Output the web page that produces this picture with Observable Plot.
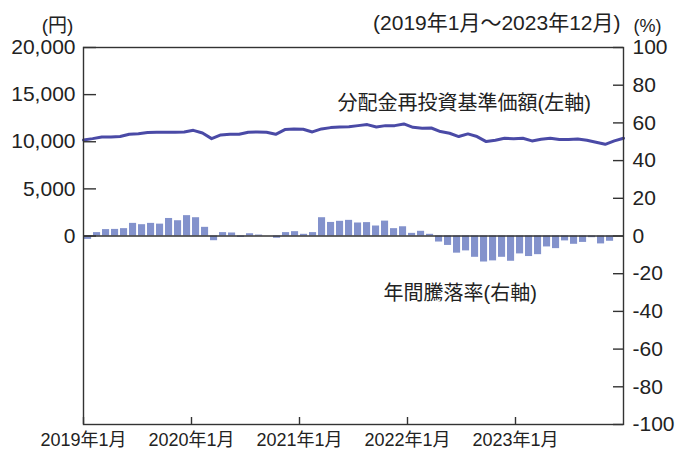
<!DOCTYPE html>
<html>
<head>
<meta charset="utf-8">
<script src="https://cdn.jsdelivr.net/npm/d3@7"></script>
<script src="https://cdn.jsdelivr.net/npm/@observablehq/plot@0.6"></script>
<style>
  html, body { margin: 0; padding: 0; background: #fff; }
  #chart { width: 675px; height: 453px; }
</style>
</head>
<body>
<div id="chart"></div>
<script>
// Monthly data, 2019年1月 – 2023年12月 (60 months)
const navYen = [
  10190, 10330, 10510, 10510, 10550, 10790, 10860, 10970, 11000, 11000, 11000, 11040,
  11210, 10930, 10330, 10720, 10790, 10790, 11000, 11040, 11000, 10790, 11290, 11360,
  11320, 11040, 11360, 11500, 11570, 11600, 11710, 11820, 11570, 11710, 11710, 11890,
  11530, 11430, 11460, 11080, 10900, 10550, 10830, 10550, 10020, 10160, 10370, 10330,
  10370, 10090, 10260, 10370, 10230, 10230, 10300, 10160, 9950, 9730, 10090, 10370
];
const annualReturnPct = [
  -1.8, 1.8, 3.4, 3.5, 3.9, 6.7, 6.0, 6.7, 6.3, 9.3, 8.1, 10.8,
  9.7, 4.6, -2.5, 1.8, 1.6, -0.7, 1.2, 0.5, 0, -1.2, 1.8, 2.3,
  0.9, 1.8, 9.7, 7.2, 7.8, 8.3, 6.9, 7.1, 5.3, 7.9, 3.9, 4.9,
  1.4, 2.5, 0.9, -3.2, -5.0, -9.1, -7.9, -11.3, -13.8, -13.2, -11.3, -13.4,
  -9.5, -10.9, -9.9, -5.8, -6.7, -2.6, -4.4, -3.4, -0.9, -4.2, -2.8, 0
];
const leftTicksYen = [0, 5000, 10000, 15000, 20000];
const rightTicksPct = [-100, -80, -60, -40, -20, 0, 20, 40, 60, 80, 100];
const xTickMonths = [0, 12, 24, 36, 48];
const xTickLabels = ["2019年1月", "2020年1月", "2021年1月", "2022年1月", "2023年1月"];
const periodLabel = "(2019年1月～2023年12月)";
const navLabel = "分配金再投資基準価額(左軸)";
const returnLabel = "年間騰落率(右軸)";

// left axis top (20,000円) aligns with right axis top (100%)
const yenPerPct = 20000 / 100;
const nMonths = navYen.length;

const bars = annualReturnPct.map((v, i) => ({i, v}));
const nav = navYen.map((yen, i) => ({i, yen}));

const FONT = '"Liberation Sans", "Noto Sans CJK JP", sans-serif';
const INK = "#222";

const W = 675, H = 453, mL = 83, mR = 52, mT = 47, mB = 29;
const frameW = W - mL - mR, frameH = H - mT - mB;

const chart = Plot.plot({
  width: W,
  height: H,
  marginLeft: mL,
  marginRight: mR,
  marginTop: mT,
  marginBottom: mB,
  style: {fontFamily: FONT, color: INK, background: "#fff", overflow: "visible"},
  x: {type: "linear", domain: [0, nMonths]},
  y: {domain: [-100, 100]},
  marks: [
    Plot.rect(bars, {
      x1: "i", x2: d => d.i + 1, y1: 0, y2: "v",
      fill: "#8392cc", insetLeft: 1, insetRight: 0.9
    }),
    Plot.ruleY([0], {stroke: "#333", strokeWidth: 1.4}),
    Plot.line(nav, {
      x: d => d.i * nMonths / (nMonths - 1),
      y: d => d.yen / yenPerPct,
      stroke: "#4a4aa6", strokeWidth: 3, strokeLinejoin: "round"
    }),
    Plot.frame({stroke: "#333", strokeWidth: 1.4}),
    // inward ticks
    Plot.tickY(leftTicksYen, {y: d => d / yenPerPct, insetRight: frameW - 13, stroke: "#333", strokeWidth: 1.4}),
    Plot.tickY(rightTicksPct, {y: d => d, insetLeft: frameW - 10, stroke: "#333", strokeWidth: 1.4}),
    Plot.tickX(xTickMonths, {x: d => d, insetTop: frameH - 7, stroke: "#333", strokeWidth: 1.4}),
    // axes labels
    Plot.axisY({
      anchor: "left", ticks: leftTicksYen.map(v => v / yenPerPct),
      tickSize: 0, tickPadding: 8, fontSize: 21, label: null,
      tickFormat: d => d3.format(",")(Math.round(d * yenPerPct))
    }),
    Plot.axisY({
      anchor: "right", ticks: rightTicksPct,
      tickSize: 0, tickPadding: 9, fontSize: 21, label: null,
      tickFormat: d => String(d)
    }),
    Plot.axisX({
      anchor: "bottom", ticks: xTickMonths,
      tickSize: 0, tickPadding: 9, fontSize: 18, label: null,
      tickFormat: d => xTickLabels[xTickMonths.indexOf(d)]
    }),
    // unit labels & period
    Plot.text(["(円)"], {frameAnchor: "top-left", dx: -26, dy: -22, textAnchor: "middle", lineAnchor: "middle", fontSize: 19, fill: INK}),
    Plot.text(["(%)"], {frameAnchor: "top-right", dx: 24, dy: -21, textAnchor: "middle", lineAnchor: "middle", fontSize: 18, fill: INK}),
    Plot.text([periodLabel], {frameAnchor: "top-right", dx: -3, dy: -24, textAnchor: "end", lineAnchor: "middle", fontSize: 21, fill: INK}),
    // series annotations
    Plot.text([navLabel], {frameAnchor: "top-left", dx: 254, dy: 56, textAnchor: "start", lineAnchor: "middle", fontSize: 20, fill: INK}),
    Plot.text([returnLabel], {frameAnchor: "top-left", dx: 300, dy: 246, textAnchor: "start", lineAnchor: "middle", fontSize: 20, fill: INK})
  ]
});
document.getElementById("chart").appendChild(chart);
</script>
</body>
</html>
